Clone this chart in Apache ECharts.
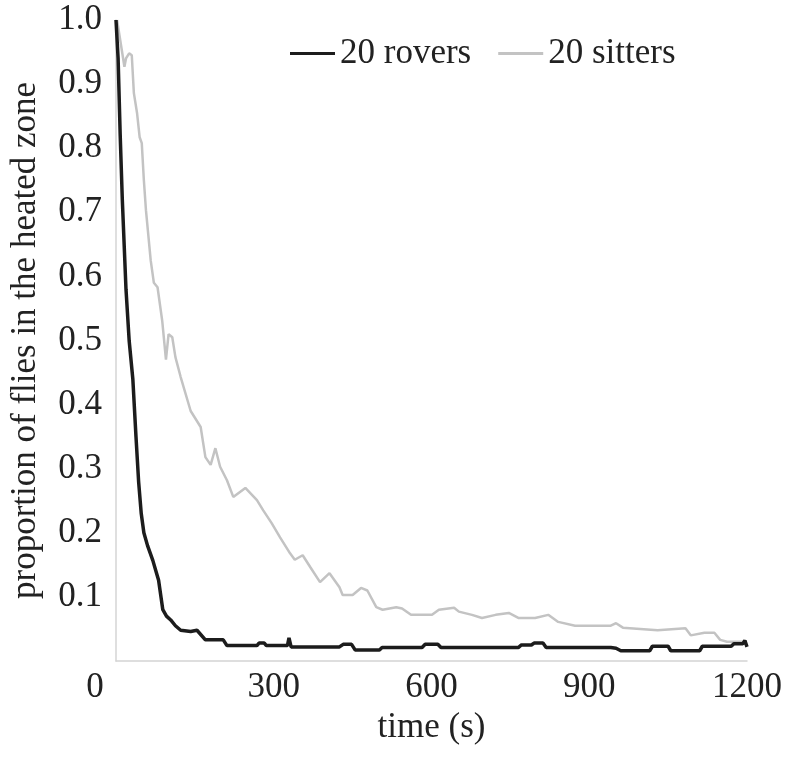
<!DOCTYPE html>
<html>
<head>
<meta charset="utf-8">
<script src="https://cdn.jsdelivr.net/npm/echarts@6/dist/echarts.min.js"></script>
<style>
  html, body { margin: 0; padding: 0; background: #fff; }
  #main { width: 785px; height: 758px; }
</style>
</head>
<body>
<div id="main"></div>
<script>
// time (s) and proportion
var roverTime = [0, 4, 8, 12, 19, 25, 32, 38, 43, 48, 53, 60, 70, 76, 81, 89, 96, 104, 113, 123,
  142, 154, 170, 204, 211, 268, 272, 282, 286, 326, 329, 333, 425, 432, 448, 455, 501, 506, 582,
  588, 612, 618, 765, 771, 790, 795, 812, 818, 941, 951, 960, 1015, 1020, 1050, 1055, 1110, 1115,
  1170, 1175, 1192, 1196, 1200];
var roverValue = [1.0, 0.94, 0.82, 0.72, 0.58, 0.5, 0.44, 0.35, 0.28, 0.23, 0.2, 0.18, 0.157, 0.14,
  0.126, 0.08, 0.07, 0.064, 0.055, 0.048, 0.046, 0.048, 0.033, 0.033, 0.024, 0.024, 0.028, 0.028,
  0.024, 0.024, 0.036, 0.022, 0.022, 0.026, 0.026, 0.017, 0.017, 0.021, 0.021, 0.026, 0.026, 0.021,
  0.021, 0.025, 0.025, 0.028, 0.028, 0.021, 0.021, 0.02, 0.016, 0.016, 0.023, 0.023, 0.016, 0.016,
  0.023, 0.023, 0.027, 0.027, 0.032, 0.022];

var sitterTime = [2, 16, 19, 25, 30, 34, 40, 45, 49, 53, 57, 66, 72, 79, 88, 95, 100, 107, 113, 123,
  142, 161, 170, 180, 189, 198, 211, 223, 246, 268, 280, 296, 312, 331, 340, 355, 369, 388, 406,
  425, 431, 450, 466, 478, 495, 507, 533, 544, 561, 601, 614, 643, 652, 677, 696, 722, 747, 766,
  797, 822, 841, 873, 941, 951, 964, 1030, 1083, 1093, 1119, 1138, 1149, 1162, 1200];
var sitterValue = [1.0, 0.927, 0.94, 0.948, 0.945, 0.886, 0.855, 0.817, 0.808, 0.75, 0.703, 0.625,
  0.59, 0.583, 0.53, 0.47, 0.51, 0.505, 0.474, 0.443, 0.39, 0.365, 0.318, 0.306, 0.332, 0.303,
  0.282, 0.256, 0.27, 0.251, 0.235, 0.215, 0.193, 0.168, 0.158, 0.165, 0.147, 0.123, 0.137, 0.115,
  0.103, 0.103, 0.114, 0.11, 0.084, 0.08, 0.084, 0.082, 0.072, 0.072, 0.08, 0.083, 0.077, 0.072,
  0.067, 0.072, 0.075, 0.067, 0.067, 0.072, 0.061, 0.055, 0.055, 0.059, 0.052, 0.048, 0.051, 0.04,
  0.044, 0.044, 0.033, 0.03, 0.03];

var xTicks = [0, 300, 600, 900, 1200];
var seriesNames = ['20 rovers', '20 sitters'];

function zip(a, b) {
  var out = [];
  for (var i = 0; i < a.length; i++) out.push([a[i], b[i]]);
  return out;
}

var font = "'Liberation Serif', 'Times New Roman', serif";
var myChart = echarts.init(document.getElementById('main'));

myChart.setOption({
  animation: false,
  textStyle: { fontFamily: font },
  legend: {
    left: 285,
    top: 31,
    icon: 'rect',
    itemWidth: 45,
    itemHeight: 3,
    itemGap: 27,
    textStyle: { fontFamily: font, fontSize: 35, color: '#222' },
    data: seriesNames
  },
  grid: { left: 115, right: 35, top: 20, bottom: 97 },
  xAxis: {
    type: 'value',
    min: 0,
    max: 1200,
    interval: 300,
    name: 'time (s)',
    nameLocation: 'middle',
    nameGap: 48,
    nameTextStyle: { fontFamily: font, fontSize: 35, color: '#222' },
    axisLine: { show: true, lineStyle: { color: '#d4d4d4', width: 1.5 } },
    axisTick: { show: false },
    splitLine: { show: false },
    axisLabel: {
      margin: 9,
      fontFamily: font,
      fontSize: 35,
      color: '#222',
      customValues: xTicks,
      formatter: function (v) {
        // the 0 label sits left of the corner in the original
        return v === 0 ? '{z|0}' : String(v);
      },
      rich: {
        z: { fontFamily: font, fontSize: 35, color: '#222', padding: [0, 42, 0, 0] }
      }
    }
  },
  yAxis: {
    type: 'value',
    min: 0,
    max: 1,
    interval: 0.1,
    name: 'proportion of flies in the heated zone',
    nameLocation: 'middle',
    nameGap: 73,
    nameTextStyle: { fontFamily: font, fontSize: 35, color: '#222' },
    axisLine: { show: true, lineStyle: { color: '#d4d4d4', width: 1.5 } },
    axisTick: { show: false },
    splitLine: { show: false },
    axisLabel: {
      margin: 14,
      fontFamily: font,
      fontSize: 35,
      color: '#222',
      formatter: function (v) {
        return v === 0 ? '' : v.toFixed(1);
      }
    }
  },
  series: [
    {
      name: seriesNames[0],
      type: 'line',
      data: zip(roverTime, roverValue),
      symbol: 'none',
      z: 3,
      lineStyle: { color: '#1c1c1c', width: 3.5 },
      itemStyle: { color: '#1c1c1c' }
    },
    {
      name: seriesNames[1],
      type: 'line',
      data: zip(sitterTime, sitterValue),
      symbol: 'none',
      z: 2,
      lineStyle: { color: '#c3c3c3', width: 2.5 },
      itemStyle: { color: '#c3c3c3' }
    }
  ]
});
</script>
</body>
</html>
